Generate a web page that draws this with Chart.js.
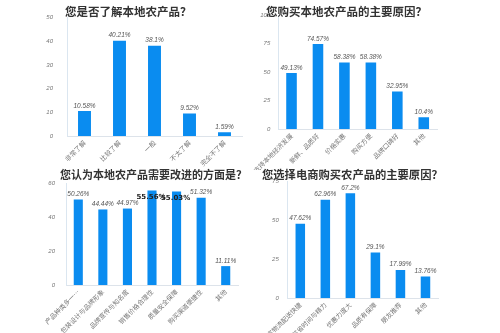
<!DOCTYPE html>
<html>
<head>
<meta charset="utf-8">
<script src="https://cdn.jsdelivr.net/npm/chart.js@4/dist/chart.umd.min.js"></script>
<style>
  body { margin: 0; background: #fff; width: 500px; height: 333px; position: relative; overflow: hidden; }
  canvas { position: absolute; }
  .title { position: absolute; font-weight: bold; font-size: 11.5px; font-family: "Noto Sans CJK SC"; color: #333; white-space: nowrap; }
</style>
</head>
<body>
<canvas id="c1" width="250" height="170" style="left:0;top:0"></canvas>
<canvas id="c2" width="250" height="170" style="left:250px;top:0"></canvas>
<canvas id="c3" width="250" height="168" style="left:0;top:165px"></canvas>
<canvas id="c4" width="250" height="168" style="left:250px;top:165px"></canvas>
<div class="title" style="left:65px;top:3px">您是否了解本地农产品？</div>
<div class="title" style="left:266px;top:3px">您购买本地农产品的主要原因？</div>
<div class="title" style="left:60px;top:166px;font-size:11px">您认为本地农产品需要改进的方面是？</div>
<div class="title" style="left:262px;top:166px;font-size:11.3px">您选择电商购买农产品的主要原因？</div>
<script>
// chart 1
const knowCats = ["非常了解", "比较了解", "一般", "不太了解", "完全不了解"];
const knowVals = [10.58, 40.21, 38.1, 9.52, 1.59];
const knowTicks = [0, 10, 20, 30, 40, 50];

// chart 2
const reasonCats = ["支持本地经济发展", "新鲜、品质好", "价格实惠", "购买方便", "品牌口碑好", "其他"];
const reasonVals = [49.13, 74.57, 58.38, 58.38, 32.95, 10.4];
const reasonTicks = [0, 25, 50, 75, 100];

// chart 3
const improveCats = ["产品种类多一…", "包装设计与品牌形象", "品牌宣传与知名度", "销售价格合理性", "质量安全保障", "购买渠道便捷性", "其他"];
const improveVals = [50.26, 44.44, 44.97, 55.56, 55.03, 51.32, 11.11];
const improveTicks = [0, 20, 40, 60];

// chart 4
const ecomCats = ["种类丰富物流配送快捷", "节省时间与精力", "优惠力度大", "品质有保障", "朋友推荐", "其他"];
const ecomVals = [47.62, 62.96, 67.2, 29.1, 17.99, 13.76];
const ecomTicks = [0, 25, 50, 75];

const BLUE = "#0a8cf0";

// labels above the bars
const valueLabels = {
  id: "valueLabels",
  afterDatasetsDraw(chart, args, opts) {
    const ctx = chart.ctx;
    const meta = chart.getDatasetMeta(0);
    ctx.save();
    ctx.textAlign = "center";
    meta.data.forEach((bar, i) => {
      const v = chart.data.datasets[0].data[i];
      if ((opts.bold || []).includes(i)) {
        ctx.font = "bold 7px 'DejaVu Sans'";
        ctx.fillStyle = "#222";
        ctx.textBaseline = "middle";
        ctx.fillText(v + "%", bar.x - 1, bar.y + 7);
      } else {
        ctx.font = "italic 6.5px 'Liberation Sans'";
        ctx.fillStyle = "#555";
        ctx.textBaseline = "bottom";
        ctx.fillText(v + "%", bar.x, bar.y - 2);
      }
    });
    ctx.restore();
  },
};

function makeChart(id, cats, vals, ticks, box) {
  new Chart(document.getElementById(id), {
    type: "bar",
    data: {
      labels: cats,
      datasets: [{ data: vals, backgroundColor: BLUE, barPercentage: box.bar, categoryPercentage: 1 }],
    },
    options: {
      responsive: false,
      animation: false,
      layout: { padding: { top: box.top, right: box.right, left: 0, bottom: 0 } },
      plugins: { legend: { display: false }, tooltip: { enabled: false }, valueLabels: { bold: box.bold } },
      scales: {
        x: {
          grid: { display: false, drawTicks: false },
          border: { color: "#dde3ea" },
          ticks: {
            minRotation: 45, maxRotation: 45, autoSkip: false, padding: 3,
            color: "#777", font: { size: 6.5, family: "Noto Sans CJK SC" },
          },
          afterFit: (a) => { a.height = box.xh; },
        },
        y: {
          min: 0, max: ticks[ticks.length - 1],
          afterBuildTicks: (a) => { a.ticks = ticks.map((v) => ({ value: v })); },
          grid: { display: false, drawTicks: false },
          border: { color: "#dbe6f0" },
          ticks: { padding: box.pad, color: "#777", font: { size: 6, style: "italic", family: "Liberation Sans" } },
          afterFit: (a) => { a.width = box.yw; },
        },
      },
    },
    plugins: [valueLabels],
  });
}

makeChart("c1", knowCats, knowVals, knowTicks, { top: 14, right: 8, yw: 67, xh: 34, pad: 14, bar: 0.37 });
makeChart("c2", reasonCats, reasonVals, reasonTicks, { top: 15, right: 63, yw: 21, xh: 41, pad: 8, bar: 0.4 });
makeChart("c3", improveCats, improveVals, improveTicks, { top: 18, right: 12, yw: 66, xh: 48, pad: 11, bar: 0.37, bold: [3, 4] });
makeChart("c4", ecomCats, ecomVals, ecomTicks, { top: 16, right: 62, yw: 16, xh: 35, pad: 9, bar: 0.38 });
</script>
</body>
</html>
